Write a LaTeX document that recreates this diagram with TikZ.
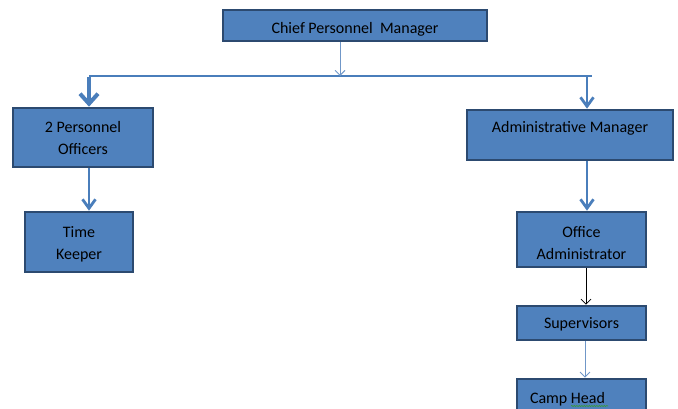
\documentclass[tikz,border=0pt]{standalone}
\usepackage{fontspec}
\setmainfont{Carlito}
\usetikzlibrary{arrows.meta,decorations.pathmorphing}
\definecolor{boxfill}{HTML}{4F81BD}
\definecolor{boxedge}{HTML}{2C4A70}
\definecolor{arrowblue}{HTML}{4A7EBB}
\definecolor{thinblue}{HTML}{7097C8}
\definecolor{squiggle}{HTML}{3A9A3A}
\begin{document}
\begin{tikzpicture}[x=1pt,y=-1pt,
  orgbox/.style={draw=boxedge,fill=boxfill,line width=2.6pt,inner sep=0pt,
    align=center,font=\fontsize{16}{22}\selectfont,text=black},
  thickarrow/.style={draw=arrowblue,line width=4.5pt,-{Straight Barb[length=10pt,width=18pt,line width=4pt]}},
  medarrow/.style={draw=arrowblue,line width=2.8pt,-{Straight Barb[length=9pt,width=13pt,line width=2.8pt]}},
  thinarrow/.style={draw=thinblue,line width=1pt,-{Straight Barb[length=5pt,width=10pt,line width=0.9pt]}},
  blackarrow/.style={draw=black,line width=0.8pt,-{Straight Barb[length=5pt,width=10pt,line width=0.8pt]}}]
\useasboundingbox (0,0) rectangle (678,409);
\node[orgbox,minimum width=264,minimum height=31,text height=19pt,text depth=2pt] (chief) at (355,25.5) {Chief Personnel\ \ Manager};
\node[orgbox,minimum width=140,minimum height=59] (po) at (83,137.5) {\rule{0pt}{13pt}2 Personnel\\Officers};
\node[orgbox,minimum width=108,minimum height=60] (tk) at (79,242) {\rule{0pt}{15pt}Time\\Keeper};
\node[orgbox,minimum width=206,minimum height=50,text height=11pt,text depth=16pt] (am) at (570,135) {Administrative Manager};
\node[orgbox,minimum width=129,minimum height=55] (oa) at (581.5,239.5) {\rule{0pt}{17.5pt}Office\\Administrator};
\node[orgbox,minimum width=129,minimum height=34,text height=13pt,text depth=3pt] (sup) at (581.5,323) {Supervisors};
\node[orgbox,minimum width=129,minimum height=40] (camp) at (581.5,399) {\makebox[125pt][l]{\hspace{11pt}Camp Head}};
\coordinate (jl) at (89,76);
\coordinate (jr) at (592,76);
\coordinate (jc) at (340,76);
\coordinate (jrv) at (587,76);
\draw[draw=arrowblue,line width=1.8pt] (jl) -- (jr);
\draw[thinarrow] (chief.south -| jc) -- (jc);
\draw[thickarrow] ([yshift=-1pt]jl) -- (jl |- po.north);
\draw[medarrow] ([yshift=-1pt]jrv) -- (jrv |- am.north);
\draw[medarrow] (po.south -| jl) -- (jl |- tk.north);
\draw[medarrow] (am.south -| jrv) -- (jrv |- oa.north);
\coordinate (cx) at (586,0);
\draw[blackarrow] (oa.south -| cx) -- (cx |- sup.north);
\coordinate (cx2) at (585,0);
\draw[thinarrow] (sup.south -| cx2) -- (cx2 |- camp.north);
\draw[squiggle,line width=0.6pt,decorate,decoration={snake,amplitude=0.6pt,segment length=2.5pt}] (571,406) -- (608,406);
\end{tikzpicture}
\end{document}
